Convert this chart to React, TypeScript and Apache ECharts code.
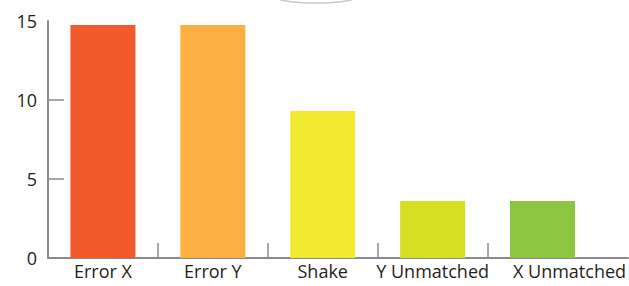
import React, { useEffect, useRef } from "react";
import * as echarts from "echarts";

const categories = ["Error X", "Error Y", "Shake", "Y Unmatched", "X Unmatched"];
const values = [14.75, 14.75, 9.3, 3.6, 3.6];
const barColors = ["#F15A2B", "#FBB041", "#F2EA2F", "#D7DF24", "#8CC540"];
const yTicks = [0, 5, 10, 15];

const AXIS = "#8b8b8f";
const TEXT = "#231f20";
const FONT = "'Open Sans', sans-serif";

export default function App() {
  const ref = useRef<HTMLDivElement>(null);
  useEffect(() => {
    if (!ref.current) return;
    const chart = echarts.init(ref.current, null, { renderer: "svg" });
    chart.setOption({
      animation: false,
      backgroundColor: "#ffffff",
      grid: [
        { left: 48, top: 21, width: 550, height: 237 },
        { left: 48, top: 21, width: 580, height: 237 },
      ],
      xAxis: [
        {
          type: "category",
          gridIndex: 0,
          position: "bottom",
          data: categories,
          axisLine: { show: false },
          axisTick: { show: false },
          axisLabel: {
            fontSize: 18,
            color: TEXT,
            fontFamily: FONT,
            margin: 4,
            interval: 0,
            formatter: (v: string) =>
              v === categories[categories.length - 1] ? "{last|" + v + "}" : v,
            rich: {
              last: { fontSize: 18, color: TEXT, fontFamily: FONT, padding: [0, 0, 0, 54] },
            },
          },
        },
        {
          type: "value",
          gridIndex: 0,
          position: "bottom",
          min: 0,
          max: categories.length,
          interval: 1,
          axisLine: { show: false },
          axisLabel: { show: false },
          splitLine: { show: false },
          axisTick: {
            show: true,
            inside: true,
            length: 15,
            customValues: [1, 2, 3, 4],
            lineStyle: { color: AXIS, width: 1.5 },
          },
        },
        {
          type: "value",
          gridIndex: 1,
          position: "bottom",
          min: 0,
          max: 1,
          axisLine: { show: true, lineStyle: { color: AXIS, width: 2 } },
          axisLabel: { show: false },
          axisTick: { show: false },
          splitLine: { show: false },
        },
      ],
      yAxis: [
        {
          type: "value",
          gridIndex: 0,
          min: yTicks[0],
          max: yTicks[yTicks.length - 1],
          interval: 5,
          axisLine: { show: true, lineStyle: { color: AXIS, width: 2 } },
          axisTick: {
            show: true,
            inside: true,
            length: 16,
            customValues: [0, 5, 10],
            lineStyle: { color: AXIS, width: 1.5 },
          },
          axisLabel: { fontSize: 18, color: TEXT, fontFamily: FONT, margin: 11 },
          splitLine: { show: false },
        },
        { type: "value", gridIndex: 1, show: false },
      ],
      graphic: [
        {
          type: "ellipse",
          shape: { cx: 316, cy: -4, rx: 42, ry: 7 },
          style: { fill: "none", stroke: "#c9c9c9", lineWidth: 1.5 },
          silent: true,
        },
      ],
      series: [
        {
          type: "bar",
          xAxisIndex: 0,
          yAxisIndex: 0,
          barWidth: 65,
          data: values.map((v, i) => ({ value: v, itemStyle: { color: barColors[i] } })),
        },
      ],
    });
    return () => chart.dispose();
  }, []);
  return (
    <div
      ref={ref}
      style={{ position: "fixed", left: 0, top: 0, width: 629, height: 286 }}
    />
  );
}
